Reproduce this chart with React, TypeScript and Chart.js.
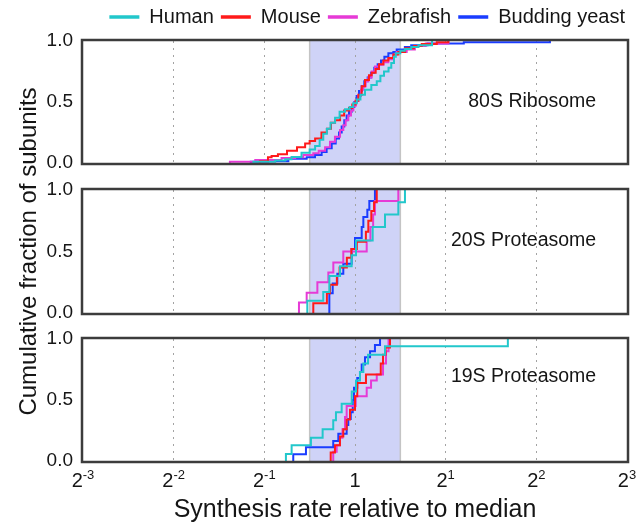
import React, { useEffect, useRef } from 'react';
import { Chart, registerables } from 'chart.js';

Chart.register(...registerables);

const FONT = "'Liberation Sans', Arial, Helvetica, sans-serif";
const TEXT = '#151515';

// ---------- series / legend ----------
const speciesNames = ['Human', 'Mouse', 'Zebrafish', 'Budding yeast'];
const speciesColors = ['#22c7cb', '#ff1a1a', '#e63ad6', '#1a3cff'];

// ---------- axes ----------
const xTickValues = [-3, -2, -1, 0, 1, 2, 3]; // log2 of synthesis rate relative to median
const xTickBase = ['2', '2', '2', '1', '2', '2', '2'];
const xTickExponent = ['-3', '-2', '-1', '', '1', '2', '3'];
const yTickValues = [0, 0.5, 1];
const shadedBandLog2 = [-0.5, 0.5];
const panelNames = ['80S Ribosome', '20S Proteasome', '19S Proteasome'];
const xTitle = 'Synthesis rate relative to median';
const yTitle = 'Cumulative fraction of subunits';

// ---------- 80S Ribosome (x = log2 rate, y = cumulative fraction after step) ----------
const ribo80S_human_x = [-1.12, -0.88, -0.77, -0.7, -0.59, -0.5, -0.44, -0.39, -0.35, -0.31, -0.27, -0.22, -0.17, -0.11, -0.06, -0.02, 0.02, 0.06, 0.11, 0.18, 0.24, 0.28, 0.32, 0.37, 0.4, 0.43, 0.45, 0.5, 0.55, 0.62, 0.7, 0.85];
const ribo80S_human_y = [0.01, 0.02, 0.03, 0.05, 0.085, 0.11, 0.14, 0.19, 0.24, 0.28, 0.33, 0.37, 0.42, 0.44, 0.46, 0.49, 0.52, 0.56, 0.6, 0.64, 0.67, 0.715, 0.75, 0.78, 0.82, 0.87, 0.9, 0.92, 0.935, 0.95, 0.965, 1.0];
const ribo80S_mouse_x = [-1.05, -0.96, -0.92, -0.85, -0.75, -0.64, -0.55, -0.5, -0.44, -0.37, -0.31, -0.265, -0.22, -0.165, -0.12, -0.066, -0.03, 0.007, 0.037, 0.074, 0.11, 0.154, 0.184, 0.228, 0.265, 0.313, 0.368, 0.423, 0.478, 0.552, 0.65, 0.736, 0.902, 1.03];
const ribo80S_mouse_y = [0.015, 0.047, 0.058, 0.071, 0.1, 0.13, 0.16, 0.18, 0.2, 0.25, 0.28, 0.33, 0.35, 0.39, 0.43, 0.45, 0.48, 0.51, 0.56, 0.63, 0.68, 0.72, 0.74, 0.77, 0.81, 0.84, 0.86, 0.89, 0.91, 0.94, 0.96, 0.975, 0.99, 1.0];
const ribo80S_zebrafish_x = [-1.38, -1.1, -0.81, -0.66, -0.57, -0.46, -0.4, -0.33, -0.276, -0.221, -0.165, -0.129, -0.103, -0.074, -0.044, -0.018, 0.007, 0.037, 0.066, 0.092, 0.118, 0.147, 0.184, 0.221, 0.265, 0.313, 0.368, 0.423, 0.46, 0.57, 0.66, 0.78, 1.03];
const ribo80S_zebrafish_y = [0.01, 0.025, 0.04, 0.047, 0.066, 0.08, 0.1, 0.13, 0.175, 0.216, 0.27, 0.31, 0.35, 0.39, 0.43, 0.47, 0.51, 0.55, 0.6, 0.63, 0.67, 0.7, 0.75, 0.79, 0.805, 0.825, 0.85, 0.89, 0.91, 0.93, 0.96, 0.98, 1.0];
const ribo80S_yeast_x = [-1.15, -0.956, -0.735, -0.533, -0.441, -0.368, -0.313, -0.257, -0.213, -0.176, -0.147, -0.118, -0.092, -0.066, -0.037, -0.007, 0.018, 0.044, 0.074, 0.103, 0.14, 0.176, 0.213, 0.25, 0.287, 0.324, 0.368, 0.423, 0.46, 0.55, 0.62, 0.8, 1.2, 2.15];
const ribo80S_yeast_y = [0.01, 0.015, 0.035, 0.047, 0.066, 0.09, 0.12, 0.16, 0.2, 0.25, 0.3, 0.35, 0.39, 0.42, 0.46, 0.5, 0.55, 0.59, 0.63, 0.67, 0.7, 0.74, 0.78, 0.81, 0.84, 0.87, 0.9, 0.91, 0.93, 0.95, 0.965, 0.98, 0.99, 1.0];

// ---------- 20S Proteasome ----------
const prot20S_human_x = [-0.526, -0.35, -0.283, -0.165, -0.037, 0.011, 0.195, 0.331, 0.478, 0.551];
const prot20S_human_y = [0.1, 0.17, 0.3, 0.38, 0.47, 0.59, 0.7, 0.8, 0.9, 1.0];
const prot20S_mouse_x = [-0.46, -0.31, -0.276, -0.2, -0.17, -0.09, -0.04, 0.02, 0.12, 0.147, 0.18, 0.21, 0.24];
const prot20S_mouse_y = [0.08, 0.16, 0.23, 0.3, 0.37, 0.45, 0.52, 0.58, 0.66, 0.75, 0.83, 0.9, 1.0];
const prot20S_zebrafish_x = [-0.618, -0.533, -0.415, -0.294, -0.239, -0.129, 0.129, 0.17, 0.2, 0.22, 0.478];
const prot20S_zebrafish_y = [0.086, 0.165, 0.25, 0.33, 0.41, 0.5, 0.59, 0.7, 0.8, 0.91, 1.0];
const prot20S_yeast_x = [-0.283, -0.246, -0.195, -0.129, -0.037, 0.0, 0.074, 0.092, 0.136, 0.158, 0.22];
const prot20S_yeast_y = [0.16, 0.24, 0.32, 0.4, 0.52, 0.61, 0.7, 0.78, 0.84, 0.91, 1.0];

// ---------- 19S Proteasome ----------
const prot19S_human_x = [-0.762, -0.699, -0.486, -0.357, -0.24, -0.21, -0.147, -0.036, 0.011, 0.055, 0.092, 0.144, 0.331, 1.686];
const prot19S_human_y = [0.057, 0.13, 0.19, 0.26, 0.335, 0.4, 0.47, 0.57, 0.66, 0.73, 0.8, 0.87, 0.94, 1.0];
const prot19S_mouse_x = [-0.268, -0.221, -0.166, -0.129, -0.092, -0.055, 0.0, 0.025, 0.121, 0.284, 0.309, 0.337, 0.386];
const prot19S_mouse_y = [0.07, 0.13, 0.2, 0.26, 0.34, 0.42, 0.53, 0.64, 0.71, 0.8, 0.87, 0.93, 1.0];
const prot19S_zebrafish_x = [-0.24, -0.202, -0.166, -0.138, -0.11, -0.092, 0.008, 0.129, 0.177, 0.24, 0.309, 0.342, 0.37];
const prot19S_zebrafish_y = [0.076, 0.13, 0.19, 0.26, 0.36, 0.45, 0.53, 0.6, 0.66, 0.71, 0.8, 0.9, 1.0];
const prot19S_yeast_x = [-0.681, -0.541, -0.24, -0.184, -0.092, -0.074, -0.047, -0.025, -0.011, 0.025, 0.055, 0.074, 0.11, 0.166, 0.22, 0.276];
const prot19S_yeast_y = [0.055, 0.112, 0.164, 0.224, 0.295, 0.344, 0.4, 0.5, 0.6, 0.68, 0.73, 0.79, 0.85, 0.9, 0.95, 1.0];

const panelSeries: number[][][][] = [
  [[ribo80S_human_x, ribo80S_human_y], [ribo80S_mouse_x, ribo80S_mouse_y], [ribo80S_zebrafish_x, ribo80S_zebrafish_y], [ribo80S_yeast_x, ribo80S_yeast_y]],
  [[prot20S_human_x, prot20S_human_y], [prot20S_mouse_x, prot20S_mouse_y], [prot20S_zebrafish_x, prot20S_zebrafish_y], [prot20S_yeast_x, prot20S_yeast_y]],
  [[prot19S_human_x, prot19S_human_y], [prot19S_mouse_x, prot19S_mouse_y], [prot19S_zebrafish_x, prot19S_zebrafish_y], [prot19S_yeast_x, prot19S_yeast_y]],
];

// layout (pixels) of each panel's canvas-level padding
const panelLayout = [
  { padding: { top: 0, left: 0, right: 12, bottom: 360 }, labelX: 2.66, labelY: 0.5 },
  { padding: { top: 190, left: 0, right: 17, bottom: 210 }, labelX: 2.66, labelY: 0.59 },
  { padding: { top: 339, left: 0, right: 17, bottom: 0 }, labelX: 2.66, labelY: 0.69 },
];

function ecdfPoints(xs: number[], ys: number[]) {
  return [{ x: xs[0], y: 0 }, ...xs.map((x, i) => ({ x, y: ys[i] }))];
}

const decorPlugin = {
  id: 'panelDecor',
  beforeDraw(chart: any, _a: any, opts: any) {
    const { ctx, chartArea: a, scales } = chart;
    const xs = scales.x;
    const x1 = xs.getPixelForValue(opts.bandMin);
    const x2 = xs.getPixelForValue(opts.bandMax);
    ctx.save();
    ctx.fillStyle = '#cfd3f7';
    ctx.fillRect(x1, a.top, x2 - x1, a.bottom - a.top);
    ctx.strokeStyle = '#c4c4c4';
    ctx.lineWidth = 1.5;
    ctx.beginPath();
    ctx.moveTo(x1, a.top);
    ctx.lineTo(x1, a.bottom);
    ctx.moveTo(x2, a.top);
    ctx.lineTo(x2, a.bottom);
    ctx.stroke();
    ctx.restore();
  },
  afterDatasetsDraw(chart: any, _a: any, opts: any) {
    const { ctx, scales } = chart;
    ctx.save();
    ctx.fillStyle = TEXT;
    ctx.font = `19.5px ${FONT}`;
    ctx.textAlign = 'right';
    ctx.textBaseline = 'middle';
    ctx.fillText(opts.label, scales.x.getPixelForValue(opts.labelX), scales.y.getPixelForValue(opts.labelY));
    ctx.restore();
  },
  afterDraw(chart: any, _a: any, opts: any) {
    const { ctx, chartArea: a, scales } = chart;
    ctx.save();
    ctx.strokeStyle = '#3c3c3c';
    ctx.lineWidth = 2.5;
    ctx.strokeRect(a.left - 1, a.top - 1, a.right - a.left + 2, a.bottom - a.top + 2);
    if (opts.xLabels) {
      // x tick labels: base with raised exponent, positioned by the x scale
      const baseY = a.bottom + 26;
      ctx.fillStyle = TEXT;
      ctx.textBaseline = 'alphabetic';
      ctx.textAlign = 'left';
      xTickValues.forEach((v, i) => {
        const px = scales.x.getPixelForValue(v);
        ctx.font = `20px ${FONT}`;
        const wb = ctx.measureText(xTickBase[i]).width;
        ctx.font = `13px ${FONT}`;
        const we = xTickExponent[i] ? ctx.measureText(xTickExponent[i]).width : 0;
        const x0 = px - (wb + we) / 2;
        ctx.font = `20px ${FONT}`;
        ctx.fillText(xTickBase[i], x0, baseY);
        if (xTickExponent[i]) {
          ctx.font = `13px ${FONT}`;
          ctx.fillText(xTickExponent[i], x0 + wb, baseY - 8);
        }
      });
    }
    ctx.restore();
  },
};

function buildConfig(p: number): any {
  const isTop = p === 0;
  const isMid = p === 1;
  const isBottom = p === 2;
  const datasets = panelSeries[p].map(([xs, ys], s) => ({
    label: speciesNames[s],
    data: ecdfPoints(xs, ys),
    borderColor: speciesColors[s],
    backgroundColor: speciesColors[s],
    borderWidth: 2,
    pointRadius: 0,
    pointHoverRadius: 0,
    pointStyle: 'line',
    stepped: true,
    fill: false,
  }));

  const scales: any = {
    x: {
      type: 'linear',
      min: xTickValues[0],
      max: xTickValues[xTickValues.length - 1],
      afterBuildTicks: (s: any) => {
        s.ticks = xTickValues.map((v) => ({ value: v }));
      },
      afterFit: (s: any) => {
        s.height = isBottom ? 62 : 0;
      },
      grid: {
        drawTicks: false,
        lineWidth: 1,
        color: (c: any) => (c.tick && Math.abs(c.tick.value) === 3 ? 'rgba(0,0,0,0)' : '#a3a3a3'),
      },
      border: { display: false, dash: [2, 5] },
      ticks: { display: false },
      title: {
        display: isBottom,
        text: xTitle,
        color: TEXT,
        font: { size: 25, family: FONT, lineHeight: 1 },
        padding: { top: 0, bottom: 0 },
      },
    },
    y: {
      type: 'linear',
      min: 0,
      max: 1,
      afterBuildTicks: (s: any) => {
        s.ticks = yTickValues.map((v) => ({ value: v }));
      },
      afterFit: (s: any) => {
        s.width = 83;
      },
      grid: { display: false, drawTicks: false },
      border: { display: false },
      ticks: {
        padding: 10,
        color: TEXT,
        font: { size: 19, family: FONT },
        callback: (v: number) => Number(v).toFixed(1),
      },
      title: {
        display: isMid,
        text: yTitle,
        color: TEXT,
        font: { size: 24, family: FONT },
        padding: { top: 15, bottom: 0 },
      },
    },
  };
  if (isTop) {
    scales.yPad = {
      type: 'linear',
      position: 'right',
      display: true,
      grid: { display: false, drawTicks: false },
      border: { display: false },
      ticks: { display: false },
      afterFit: (s: any) => {
        s.width = 5;
      },
    };
  }

  return {
    type: 'line',
    data: { datasets },
    plugins: [decorPlugin],
    options: {
      responsive: false,
      animation: false,
      devicePixelRatio: 1,
      events: [],
      layout: { padding: panelLayout[p].padding },
      scales,
      plugins: {
        tooltip: { enabled: false },
        legend: {
          display: isTop,
          position: 'top',
          align: 'end',
          labels: {
            usePointStyle: true,
            pointStyle: 'line',
            pointStyleWidth: 30,
            padding: 7,
            color: TEXT,
            font: { size: 20, family: FONT },
            generateLabels: (chart: any) =>
              (Chart.defaults.plugins.legend.labels as any).generateLabels(chart).map((l: any) => ({ ...l, lineWidth: 3.5 })),
          },
        },
        title: {
          display: isTop,
          text: '',
          position: 'top',
          weight: 500,
          padding: 0,
          font: { size: 4, lineHeight: 1 },
        },
        panelDecor: {
          bandMin: shadedBandLog2[0],
          bandMax: shadedBandLog2[1],
          label: panelNames[p],
          labelX: panelLayout[p].labelX,
          labelY: panelLayout[p].labelY,
          xLabels: isBottom,
        },
      },
    },
  };
}

function Panel({ index }: { index: number }) {
  const ref = useRef<HTMLCanvasElement>(null);
  useEffect(() => {
    if (!ref.current) return;
    const chart = new Chart(ref.current, buildConfig(index));
    return () => chart.destroy();
  }, [index]);
  return (
    <canvas
      ref={ref}
      width={644}
      height={523}
      style={{ position: 'absolute', left: 0, top: 0, width: 644, height: 523 }}
    />
  );
}

export default function App() {
  Chart.defaults.font.family = FONT;
  return (
    <div
      style={{
        position: 'fixed',
        left: 0,
        top: 0,
        width: 644,
        height: 523,
        background: '#ffffff',
        overflow: 'hidden',
      }}
    >
      {[0, 1, 2].map((i) => (
        <Panel key={i} index={i} />
      ))}
    </div>
  );
}
